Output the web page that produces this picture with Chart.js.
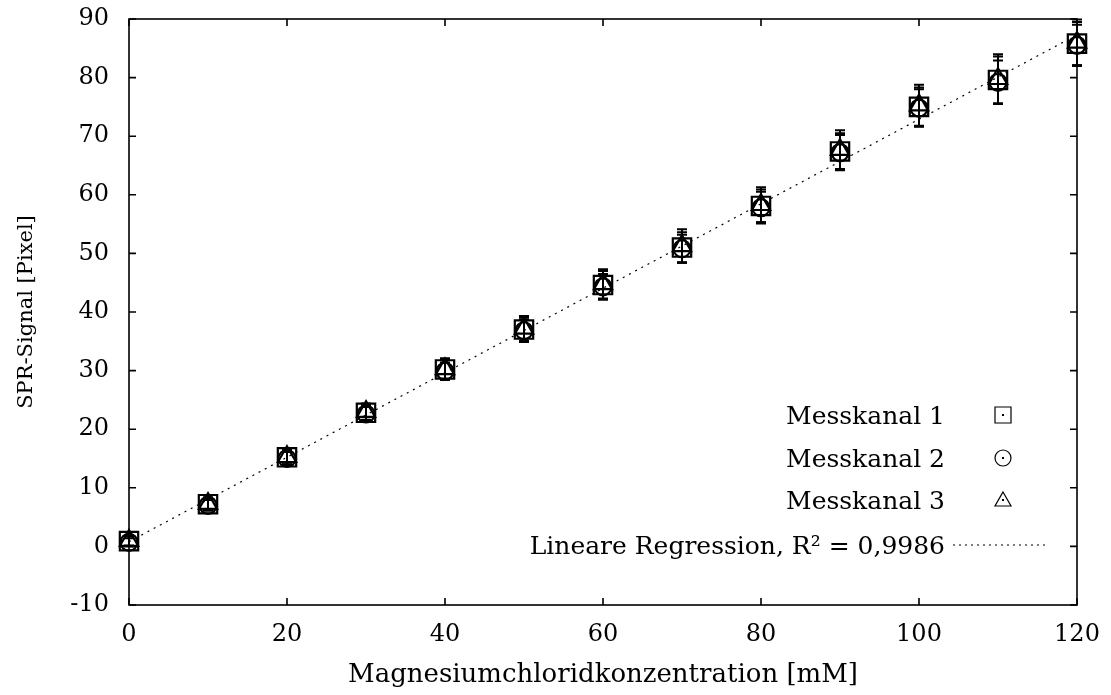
<!DOCTYPE html>
<html>
<head>
<meta charset="utf-8">
<script src="https://cdn.jsdelivr.net/npm/chart.js@4"></script>
<style>
  html, body { margin: 0; padding: 0; background: #fff; }
  #wrap { width: 1111px; height: 695px; }
</style>
</head>
<body>
<div id="wrap"><canvas id="mgChart"></canvas></div>
<script>
// Konzentrationen [mM]
const conc = [0, 10, 20, 30, 40, 50, 60, 70, 80, 90, 100, 110, 120];

// SPR-Signal je Messkanal [Pixel]
const kanal1 = [0.9, 7.2, 15.2, 22.8, 30.2, 37.0, 44.6, 51.0, 58.1, 67.4, 75.0, 79.6, 85.8];
const kanal2 = [0.7, 7.0, 15.0, 22.6, 29.9, 36.8, 44.3, 50.8, 57.8, 67.2, 74.8, 79.2, 85.5];
const kanal3 = [1.0, 7.3, 15.3, 23.0, 30.3, 37.2, 44.8, 51.3, 58.3, 67.7, 75.3, 79.8, 86.0];

// Standardabweichungen
const err1 = [0.8, 1.0, 1.2, 1.3, 1.7, 2.0, 2.4, 2.6, 2.8, 3.1, 3.3, 4.0, 3.7];
const err2 = [0.7, 0.9, 1.1, 1.2, 1.5, 1.9, 2.2, 2.4, 2.7, 3.0, 3.2, 3.7, 3.5];
const err3 = [0.9, 1.1, 1.3, 1.4, 1.8, 2.1, 2.5, 2.8, 3.0, 3.3, 3.5, 4.2, 3.9];

// Regressionsgerade (Endpunkte)
const regX = [0, 120];
const regY = [0.8, 87.3];

const xTicks = [0, 20, 40, 60, 80, 100, 120];
const yTicks = [-10, 0, 10, 20, 30, 40, 50, 60, 70, 80, 90];

const FONT = 'DejaVu Serif';

const pts = (ys) => conc.map((x, i) => ({ x: x, y: ys[i] }));

// Fehlerbalken
const errorBars = {
    id: 'errorBars',
    afterDatasetsDraw(chart) {
        const { ctx, scales: { x, y } } = chart;
        const errs = [err1, err2, err3];
        ctx.save();
        ctx.strokeStyle = '#000';
        ctx.lineWidth = 2;
        for (let d = 0; d < 3; d++) {
            const ys = chart.data.datasets[d].data;
            ys.forEach((p, i) => {
                const px = x.getPixelForValue(p.x);
                const top = y.getPixelForValue(p.y + errs[d][i]);
                const bot = y.getPixelForValue(p.y - errs[d][i]);
                ctx.beginPath();
                ctx.moveTo(px, top); ctx.lineTo(px, bot);
                ctx.moveTo(px - 5, top); ctx.lineTo(px + 5, top);
                ctx.moveTo(px - 5, bot); ctx.lineTo(px + 5, bot);
                ctx.stroke();
            });
        }
        ctx.restore();
    }
};

// Rahmen mit Innenticks
const frame = {
    id: 'frame',
    afterDraw(chart) {
        const { ctx, chartArea: a, scales: { x, y } } = chart;
        ctx.save();
        ctx.strokeStyle = '#000';
        ctx.lineWidth = 1.6;
        ctx.strokeRect(a.left, a.top, a.right - a.left, a.bottom - a.top);
        ctx.beginPath();
        xTicks.forEach(v => {
            const px = x.getPixelForValue(v);
            ctx.moveTo(px, a.bottom); ctx.lineTo(px, a.bottom - 7);
            ctx.moveTo(px, a.top); ctx.lineTo(px, a.top + 7);
        });
        yTicks.forEach(v => {
            const py = y.getPixelForValue(v);
            ctx.moveTo(a.left, py); ctx.lineTo(a.left + 7, py);
            ctx.moveTo(a.right, py); ctx.lineTo(a.right - 7, py);
        });
        ctx.stroke();
        ctx.restore();
    }
};

// Legende (Text links, Symbol rechts)
const legendBox = {
    id: 'legendBox',
    afterDraw(chart) {
        const { ctx, chartArea: a } = chart;
        const textRight = a.right - 132;
        const symX = a.right - 74;
        const rows = [
            { label: 'Messkanal 1', y: a.bottom - 190, sym: 'rect' },
            { label: 'Messkanal 2', y: a.bottom - 147, sym: 'circle' },
            { label: 'Messkanal 3', y: a.bottom - 105, sym: 'triangle' },
            { label: 'Lineare Regression, R\u00B2 = 0,9986', y: a.bottom - 60, sym: 'line' }
        ];
        ctx.save();
        ctx.fillStyle = '#000';
        ctx.strokeStyle = '#000';
        ctx.font = '25px "' + FONT + '"';
        ctx.textAlign = 'right';
        ctx.textBaseline = 'alphabetic';
        rows.forEach(r => {
            ctx.fillText(r.label, textRight, r.y + 9);
            ctx.lineWidth = 1.2;
            ctx.beginPath();
            if (r.sym === 'rect') {
                ctx.rect(symX - 8, r.y - 8, 16, 16);
            } else if (r.sym === 'circle') {
                ctx.arc(symX, r.y, 8, 0, Math.PI * 2);
            } else if (r.sym === 'triangle') {
                ctx.moveTo(symX, r.y - 8);
                ctx.lineTo(symX + 8, r.y + 6);
                ctx.lineTo(symX - 8, r.y + 6);
                ctx.closePath();
            }
            if (r.sym === 'line') {
                ctx.setLineDash([2, 4]);
                ctx.moveTo(textRight + 8, r.y);
                ctx.lineTo(textRight + 102, r.y);
                ctx.stroke();
                ctx.setLineDash([]);
            } else {
                ctx.stroke();
                ctx.fillRect(symX - 1, r.y - 1, 2, 2);
            }
        });
        ctx.restore();
    }
};

Chart.defaults.font.family = FONT;
Chart.defaults.color = '#000';

const ctx = document.getElementById('mgChart').getContext('2d');
new Chart(ctx, {
    type: 'scatter',
    data: {
        datasets: [{
            label: 'Messkanal 1',
            data: pts(kanal1),
            pointStyle: 'rect',
            pointRadius: 13,
            borderColor: '#000',
            backgroundColor: 'rgba(0,0,0,0)',
            borderWidth: 2.2,
            clip: false
        }, {
            label: 'Messkanal 2',
            data: pts(kanal2),
            pointStyle: 'circle',
            pointRadius: 8.5,
            borderColor: '#000',
            backgroundColor: 'rgba(0,0,0,0)',
            borderWidth: 2.2,
            clip: false
        }, {
            label: 'Messkanal 3',
            data: pts(kanal3),
            pointStyle: 'triangle',
            pointRadius: 10.5,
            borderColor: '#000',
            backgroundColor: 'rgba(0,0,0,0)',
            borderWidth: 2.2,
            clip: false
        }, {
            label: 'Lineare Regression',
            type: 'line',
            data: regX.map((x, i) => ({ x: x, y: regY[i] })),
            borderColor: '#000',
            borderWidth: 1.2,
            borderDash: [2, 5],
            pointRadius: 0,
            fill: false
        }]
    },
    options: {
        responsive: true,
        maintainAspectRatio: false,
        animation: false,
        layout: { padding: { top: 19, right: 34, left: 0, bottom: 0 } },
        plugins: {
            legend: { display: false },
            tooltip: { enabled: false }
        },
        scales: {
            x: {
                type: 'linear',
                min: 0, max: 120,
                grid: { display: false, drawTicks: false },
                border: { display: false },
                ticks: { stepSize: 20, padding: 15, font: { size: 24 } },
                title: {
                    display: true,
                    text: 'Magnesiumchloridkonzentration [mM]',
                    font: { size: 26 },
                    padding: { top: 0, bottom: 4 }
                },
                afterFit(s) {
                    s.height = 90;
                    s.paddingLeft = 0;
                    s.paddingRight = 0;
                }
            },
            y: {
                min: -10, max: 90,
                grid: { display: false, drawTicks: false },
                border: { display: false },
                ticks: { stepSize: 10, padding: 20, font: { size: 24 } },
                title: {
                    display: true,
                    text: 'SPR-Signal [Pixel]',
                    font: { size: 21 },
                    padding: { top: 14, bottom: 0 }
                },
                afterFit(s) {
                    s.width = 129;
                    s.paddingTop = 0;
                    s.paddingBottom = 0;
                }
            }
        }
    },
    plugins: [errorBars, frame, legendBox]
});
</script>
</body>
</html>
